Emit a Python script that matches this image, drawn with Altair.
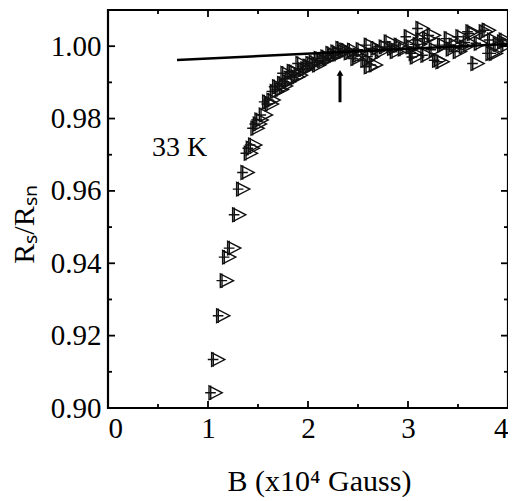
import altair as alt
import pandas as pd

# ---- data ----
b_field = [1.057, 1.083, 1.133, 1.17, 1.193, 1.243, 1.293, 1.333, 1.377, 1.41, 1.453, 1.43,
           1.477, 1.50, 1.517, 1.56, 1.593, 1.62, 1.637, 1.67, 1.693, 1.72, 1.743, 1.76,
           1.777, 1.793, 1.82, 1.84, 1.86, 1.88, 1.91, 1.927, 1.95, 1.977, 2.0, 2.027,
           2.06, 2.093, 2.11, 2.14, 2.177, 2.20, 2.227, 2.25, 2.277, 2.30, 2.327, 2.35,
           2.377, 2.41, 2.443, 2.477, 2.50, 2.53, 2.577, 2.61, 2.61, 2.627, 2.66, 2.677,
           2.72, 2.76, 2.81, 2.843, 2.87, 2.91, 2.95, 3.01, 3.03, 3.06, 3.07, 3.10,
           3.127, 3.127, 3.177, 3.193, 3.24, 3.26, 3.293, 3.327, 3.343, 3.41, 3.43, 3.46,
           3.50, 3.527, 3.56, 3.60, 3.627, 3.64, 3.677, 3.71, 3.76, 3.79, 3.827, 3.843,
           3.86, 3.90, 3.943, 3.96, 3.977]
ratio = [0.9042, 0.9134, 0.9255, 0.9352, 0.9417, 0.9442, 0.9534, 0.9605, 0.9651, 0.9704, 0.9727, 0.9718,
         0.9773, 0.9785, 0.9796, 0.9810, 0.9846, 0.9840, 0.9851, 0.9875, 0.9888, 0.9880, 0.9897, 0.9890,
         0.9925, 0.9902, 0.9910, 0.9930, 0.9929, 0.9915, 0.9920, 0.9952, 0.9935, 0.9938, 0.9945, 0.9952,
         0.9955, 0.9948, 0.9966, 0.9960, 0.9970, 0.9965, 0.9980, 0.9975, 0.9984, 0.9978, 0.9994, 0.9985,
         0.9989, 0.9982, 0.9989, 0.9966, 0.9975, 0.9990, 0.9961, 1.0003, 0.9943, 0.9971, 0.9948, 0.9994,
         0.9985, 0.9998, 1.0012, 0.9994, 0.9985, 1.0003, 0.9992, 1.0026, 0.9998, 0.9980, 0.9970, 1.0005,
         1.0049, 1.0017, 0.9975, 1.0021, 1.0030, 0.9990, 0.9961, 0.9957, 1.0003, 1.0021, 0.9992, 1.0003,
         0.9985, 1.0026, 0.9998, 1.0010, 1.0040, 1.0035, 0.9952, 1.0008, 1.0040, 1.0044, 0.9980, 1.0017,
         0.9980, 1.0005, 1.0012, 1.0017, 1.0003]

fit_b = [0.69, 4.0]
fit_r = [0.9962, 1.0006]

arrow_b = [2.32]
arrow_r_start = [0.9845]
arrow_r_end = [0.9920]
arrow_head_r = [0.9926]

note_text = ["33 K"]
note_b = [0.44]
note_r = [0.9719]

x_major = [0, 1, 2, 3, 4]
x_minor = [0.5, 1.5, 2.5, 3.5]
y_major = [0.90, 0.92, 0.94, 0.96, 0.98, 1.00]
y_minor = [0.91, 0.93, 0.95, 0.97, 0.99]

FONT = "Liberation Serif"
W, H = 400, 398

xs = alt.Scale(domain=[0, 4], nice=False, zero=False)
ys = alt.Scale(domain=[0.90, 1.01], nice=False, zero=False)

X_AXIS = alt.Axis(values=x_major, format="d", title="B (x10\u2074 Gauss)",
                  domain=False, ticks=False, grid=False, labelPadding=6,
                  labelFont=FONT, labelFontSize=29, labelColor="black",
                  titleX=211, titleY=73, titleBaseline="middle", titleAlign="center")
Y_AXIS = alt.Axis(values=y_major, format=".2f", title="R\u209b/R\u209b\u2099",
                  domain=False, ticks=False, grid=False, labelPadding=7,
                  labelFont=FONT, labelFontSize=29, labelColor="black",
                  titleX=-84, titleY=214, titleAngle=270,
                  titleBaseline="middle", titleAlign="center")


def X(field):
    return alt.X(field, scale=xs, axis=X_AXIS)


def Y(field):
    return alt.Y(field, scale=ys, axis=Y_AXIS)


marker = ("M -0.55 -0.8 L 1 0 L -0.55 0.8 Z "
          "M -1 0 L 0.25 0 M -0.35 -0.85 L -0.35 0.85")

pts_df = pd.DataFrame({"b": b_field, "r": ratio})
points = alt.Chart(pts_df).mark_point(
    shape=marker, size=290, filled=False, stroke="#111111", strokeWidth=1.4, opacity=1
).encode(x=X("b:Q"), y=Y("r:Q"))

fit_df = pd.DataFrame({"b": fit_b, "r": fit_r})
fit = alt.Chart(fit_df).mark_line(color="black", strokeWidth=2.5).encode(
    x=X("b:Q"), y=Y("r:Q"))

arrow_df = pd.DataFrame({"b": arrow_b, "r": arrow_r_start, "r1": arrow_r_end,
                         "rh": arrow_head_r})
arrow_shaft = alt.Chart(arrow_df).mark_rule(color="black", strokeWidth=3).encode(
    x=X("b:Q"), y=Y("r:Q"), y2="r1:Q")
arrow_head = alt.Chart(arrow_df).mark_point(
    shape="triangle-up", size=45, filled=True, color="black", opacity=1
).encode(x=X("b:Q"), y=Y("rh:Q"))

note_df = pd.DataFrame({"t": note_text, "b": note_b, "r": note_r})
note = alt.Chart(note_df).mark_text(
    align="left", baseline="middle", font=FONT, fontSize=28, color="black"
).encode(x=X("b:Q"), y=Y("r:Q"), text="t:N")


def xticks(vals, length):
    df = pd.DataFrame({"b": vals})
    bottom = alt.Chart(df).mark_rule(color="black", strokeWidth=1.8).encode(
        x=X("b:Q"), y=alt.value(H), y2=alt.value(H - length))
    top = alt.Chart(df).mark_rule(color="black", strokeWidth=1.8).encode(
        x=X("b:Q"), y=alt.value(0), y2=alt.value(length))
    return [bottom, top]


def yticks(vals, length):
    df = pd.DataFrame({"r": vals})
    left = alt.Chart(df).mark_rule(color="black", strokeWidth=1.8).encode(
        y=Y("r:Q"), x=alt.value(0), x2=alt.value(length))
    right = alt.Chart(df).mark_rule(color="black", strokeWidth=1.8).encode(
        y=Y("r:Q"), x=alt.value(W), x2=alt.value(W - length))
    return [left, right]


tick_layers = (xticks(x_major, 7) + xticks(x_minor, 4)
               + yticks(y_major, 7) + yticks(y_minor, 4))

chart = alt.layer(points, fit, arrow_shaft, arrow_head, note, *tick_layers).properties(
    width=W, height=H,
    autosize=alt.AutoSizeParams(type="none"),
    padding={"left": 100, "top": 2, "right": 0, "bottom": 91},
).configure(
    background="white", font=FONT,
    style={"guide-label": {"font": FONT, "fontSize": 29, "fill": "black"},
           "guide-title": {"font": FONT, "fontSize": 30, "fontWeight": "normal",
                           "fill": "black"}},
).configure_view(
    stroke="black", strokeWidth=2.2
).configure_axis(
    labelFont=FONT, labelFontSize=29, labelColor="black",
    titleFont=FONT, titleFontSize=30, titleFontWeight="normal", titleColor="black",
)

chart.save("out.html", embed_options={"renderer": "svg", "actions": False})
